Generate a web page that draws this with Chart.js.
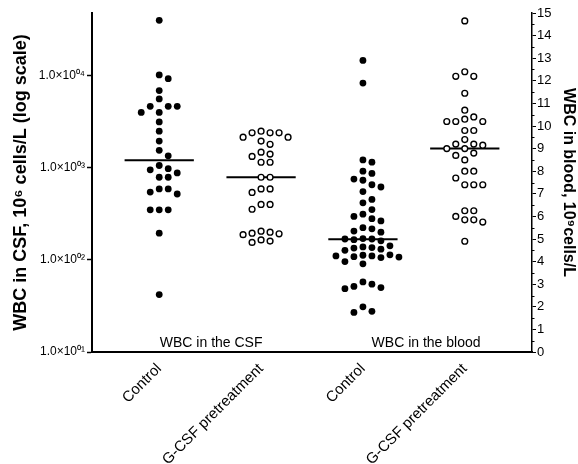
<!DOCTYPE html>
<html>
<head>
<meta charset="utf-8">
<script src="https://cdn.jsdelivr.net/npm/chart.js@4.4.0/dist/chart.umd.min.js"></script>
<style>
  html, body { margin: 0; padding: 0; background: #fff; }
  #wrap { width: 578px; height: 464px; }
</style>
</head>
<body>
<div id="wrap"><canvas id="wbcChart" width="578" height="464"></canvas></div>
<script>
const categories = ['Control', 'G-CSF pretreatment', 'Control', 'G-CSF pretreatment'];
const groupTitles = ['WBC in the CSF', 'WBC in the blood'];

// CSF counts, 10^6 cells/L (left, log axis)
const csfControl = [40000, 10200, 9300, 6900, 5600, 4650, 4650, 4650, 4000, 4000,
  3150, 2500, 1950, 1550, 1350, 1060, 980, 950, 880, 790,
  790, 590, 590, 545, 520, 350, 350, 350, 195, 42];
const csfGcsf = [2500, 2400, 2400, 2400, 2150, 2150, 1950, 1800, 1480, 1410,
  1330, 1150, 1150, 790, 790, 590, 590, 540, 400, 400,
  355, 205, 200, 195, 192, 188, 165, 160, 155];

// blood counts, 10^9 cells/L (right, linear axis)
const bloodControl = [12.9, 11.9, 8.5, 8.4, 8.0, 7.9, 7.65, 7.6, 7.4, 7.3,
  7.1, 6.75, 6.6, 6.3, 6.1, 6.0, 5.9, 5.8, 5.5, 5.45,
  5.35, 5.3, 5.02, 5.0, 5.0, 4.97, 4.92, 4.7, 4.65, 4.62,
  4.6, 4.55, 4.5, 4.3, 4.28, 4.25, 4.25, 4.22, 4.2, 4.18,
  4.0, 3.9, 3.1, 3.0, 2.9, 2.85, 2.8, 2.0, 1.8, 1.75];
const bloodGcsf = [14.65, 12.4, 12.2, 12.2, 11.45, 10.7, 10.4, 10.3, 10.2, 10.2,
  10.2, 9.8, 9.8, 9.4, 9.2, 9.2, 9.15, 9.0, 9.0, 8.8,
  8.7, 8.5, 8.0, 8.0, 7.7, 7.4, 7.4, 7.4, 6.25, 6.25,
  6.0, 5.85, 5.85, 5.75, 4.9];

const logTicks = [10, 100, 1000, 10000];
const logTickLabels = ['1.0×10⁰¹', '1.0×10⁰²', '1.0×10⁰³', '1.0×10⁰⁴'];

const FONT = 'Arial, "Liberation Sans", sans-serif';

function median(arr) {
  const s = arr.slice().sort((a, b) => a - b);
  const m = Math.floor(s.length / 2);
  return s.length % 2 ? s[m] : (s[m - 1] + s[m]) / 2;
}

function dots(values, group, axis, filled) {
  return {
    type: 'scatter',
    group: group,
    data: values.map(v => ({ x: group, y: v })),
    yAxisID: axis,
    pointRadius: filled ? 3.4 : 2.9,
    pointHoverRadius: filled ? 3.4 : 2.9,
    pointBorderWidth: filled ? 0 : 1.4,
    pointBackgroundColor: filled ? '#000' : '#fff',
    pointBorderColor: '#000',
    order: 0
  };
}

function medianLine(values, group, axis) {
  const m = median(values);
  return {
    type: 'line',
    data: [{ x: group - 0.34, y: m }, { x: group + 0.34, y: m }],
    yAxisID: axis,
    borderColor: '#000',
    borderWidth: 2,
    pointRadius: 0,
    order: 1
  };
}

const annotate = {
  id: 'annotate',
  afterDraw(chart, args, opts) {
    const ctx = chart.ctx;
    const xs = chart.scales.x;
    const yl = chart.scales.yLin;
    ctx.save();
    ctx.fillStyle = '#000';
    ctx.font = '14px ' + FONT;
    ctx.textAlign = 'center';
    ctx.textBaseline = 'alphabetic';
    groupTitles.forEach((t, i) => {
      ctx.fillText(t, xs.getPixelForValue(opts.at[i]), chart.chartArea.bottom - 5);
    });
    // minor ticks on the blood axis
    ctx.strokeStyle = '#000';
    ctx.lineWidth = 1;
    for (let v = 0.5; v < 15; v += 1) {
      const py = Math.round(yl.getPixelForValue(v)) + 0.5;
      ctx.beginPath();
      ctx.moveTo(yl.left, py);
      ctx.lineTo(yl.left + 2.5, py);
      ctx.stroke();
    }
    ctx.restore();
  }
};

// spread points sideways so they don't overlap (Prism-style column layout)
function swarm(chart) {
  const xs = chart.scales.x;
  const step = 9 / (xs.getPixelForValue(1) - xs.getPixelForValue(0));
  chart.data.datasets.forEach(ds => {
    if (ds.type !== 'scatter') return;
    const ys = chart.scales[ds.yAxisID];
    const placed = [];
    const idx = ds.data.map((p, i) => i).sort((a, b) => ds.data[b].y - ds.data[a].y);
    idx.forEach(i => {
      const py = ys.getPixelForValue(ds.data[i].y);
      for (const k of [0, 1, -1, 2, -2, 3, -3, 4, -4]) {
        if (!placed.some(q => q.k === k && Math.abs(q.py - py) < 8)) {
          placed.push({ k: k, py: py });
          ds.data[i].x = ds.group + k * step;
          break;
        }
      }
    });
  });
  chart.update('none');
}

const ctx = document.getElementById('wbcChart').getContext('2d');
const wbcChart = new Chart(ctx, {
  type: 'scatter',
  data: {
    datasets: [
      dots(csfControl, 0, 'yLog', true),
      dots(csfGcsf, 1, 'yLog', false),
      dots(bloodControl, 2, 'yLin', true),
      dots(bloodGcsf, 3, 'yLin', false),
      medianLine(csfControl, 0, 'yLog'),
      medianLine(csfGcsf, 1, 'yLog'),
      medianLine(bloodControl, 2, 'yLin'),
      medianLine(bloodGcsf, 3, 'yLin')
    ]
  },
  options: {
    responsive: false,
    animation: false,
    devicePixelRatio: 1,
    layout: { padding: { top: 13, left: 0, right: 0, bottom: 0 } },
    plugins: {
      legend: { display: false },
      tooltip: { enabled: false },
      annotate: { at: [0.51, 2.62] }
    },
    scales: {
      x: {
        type: 'linear',
        min: -0.66,
        max: 3.66,
        afterBuildTicks: s => { s.ticks = categories.map((c, i) => ({ value: i })); },
        afterFit: s => { s.height = 112; },
        ticks: {
          callback: v => categories[v],
          minRotation: 45,
          maxRotation: 45,
          autoSkip: false,
          padding: 0,
          color: '#000',
          font: { family: FONT, size: 15 }
        },
        grid: { display: false },
        border: { color: '#000', width: 2 }
      },
      yLog: {
        type: 'logarithmic',
        position: 'left',
        min: 10,
        max: 48000,
        afterBuildTicks: s => { s.ticks = logTicks.map(v => ({ value: v })); },
        afterFit: s => { s.width = 92; },
        ticks: {
          callback: v => logTickLabels[logTicks.indexOf(v)],
          autoSkip: false,
          padding: 2,
          color: '#000',
          font: { family: FONT, size: 12 }
        },
        grid: { drawOnChartArea: false, tickLength: 5, tickColor: '#000', tickWidth: 1.5 },
        border: { color: '#000', width: 2 },
        title: {
          display: true,
          text: 'WBC in CSF, 10⁶ cells/L (log scale)',
          color: '#000',
          padding: { top: 10, bottom: 0 },
          font: { family: FONT, size: 18, weight: 'bold' }
        }
      },
      yLin: {
        type: 'linear',
        position: 'right',
        min: 0,
        max: 15,
        afterFit: s => { s.width = 46; },
        ticks: {
          stepSize: 1,
          autoSkip: false,
          padding: 1,
          color: '#000',
          font: { family: FONT, size: 13 }
        },
        grid: { drawOnChartArea: false, tickLength: 4, tickColor: '#000', tickWidth: 1 },
        border: { color: '#000', width: 1.5 },
        title: {
          display: true,
          text: 'WBC in blood, 10⁹cells/L',
          color: '#000',
          padding: { top: 0, bottom: 0 },
          font: { family: FONT, size: 16, weight: 'bold' }
        }
      }
    }
  },
  plugins: [annotate]
});

swarm(wbcChart);
</script>
</body>
</html>
